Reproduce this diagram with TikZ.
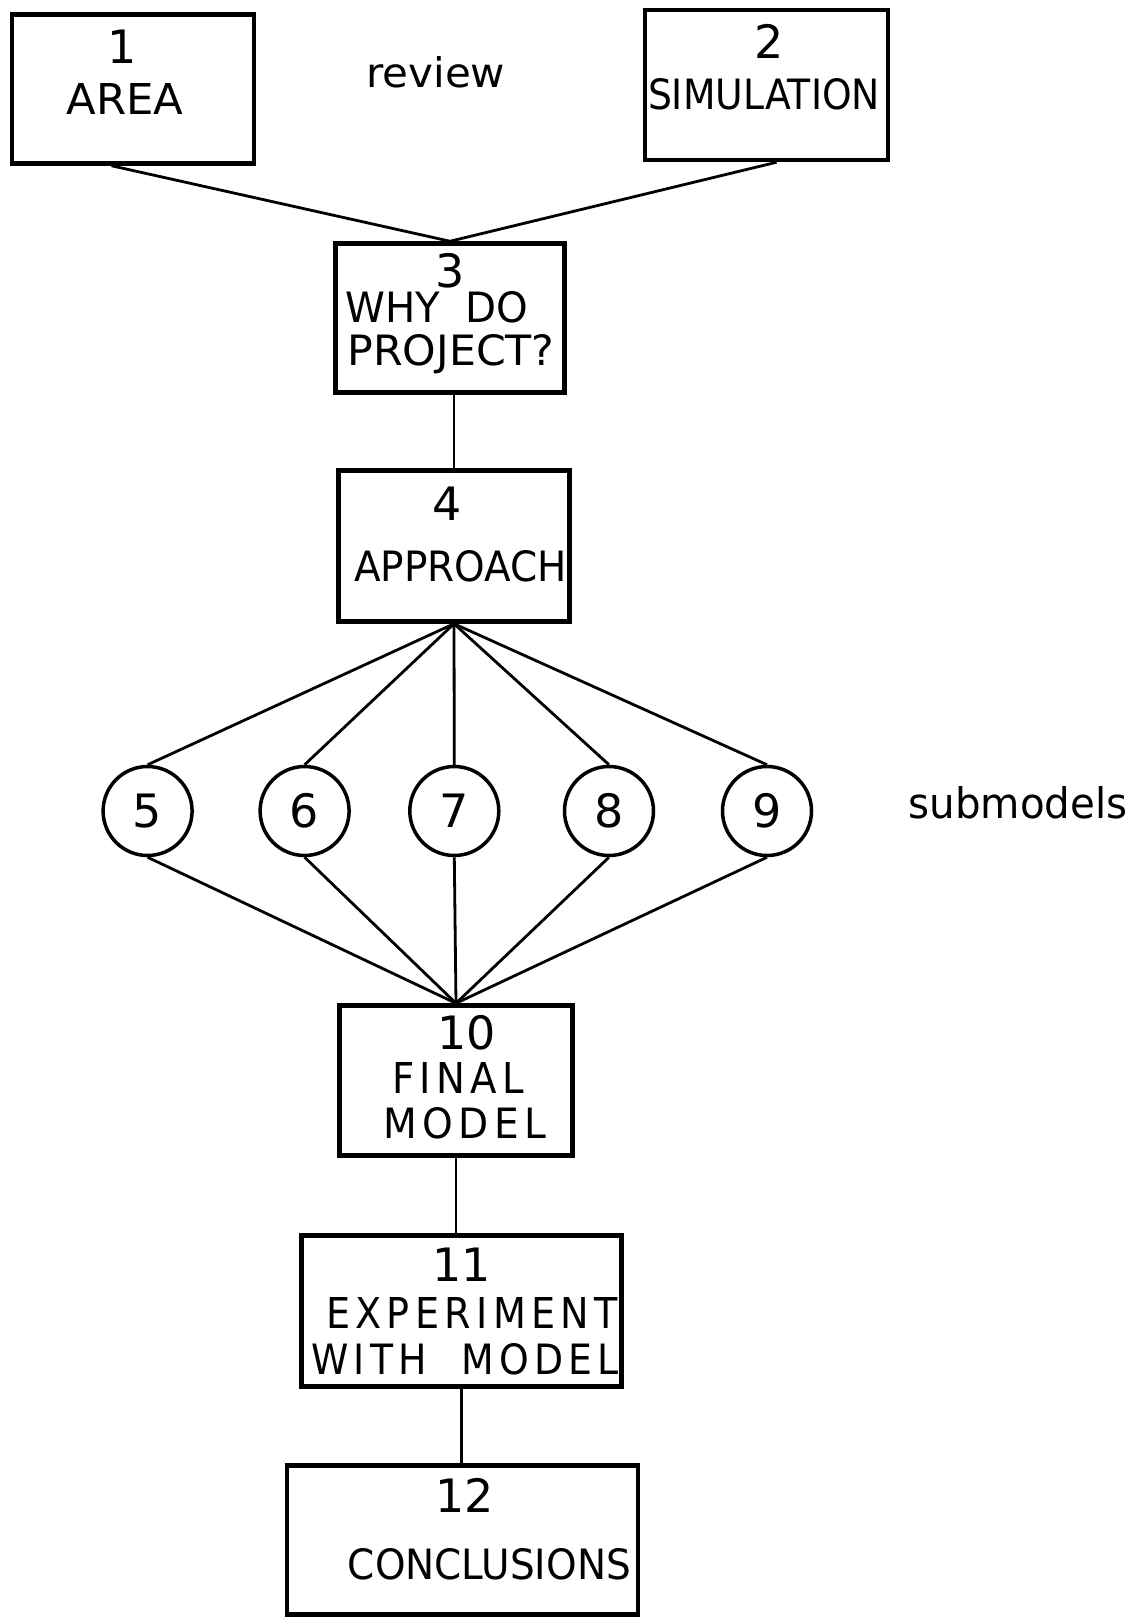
\documentclass[tikz,border=0pt]{standalone}
\usepackage{fontspec}
\setmainfont{DejaVu Sans}
\usepackage{graphicx}
% lettering squeezed to the width and height it has in the drawing
\newcommand{\fitword}[3]{\resizebox{#1pt}{#2pt}{#3}}
\newcommand{\spread}[1]{{\addfontfeatures{LetterSpace=14}#1}}
\tikzset{
  box/.style={draw, line width=4.5pt, inner sep=0pt},
  submodel/.style={draw, circle, line width=3.5pt, minimum size=89pt, inner sep=0pt},
  link/.style={line width=2.8pt},
  lbl/.style={inner sep=0pt}
}
\begin{document}
\begin{tikzpicture}[x=1pt,y=-1pt,font=\fontsize{46}{50}\selectfont]
	\useasboundingbox (0,0) rectangle (1147,1619);

	% boxes
	\node[box, minimum width=242pt, minimum height=149pt] (area) at (133,89) {};
	\node[box, minimum width=243pt, minimum height=150pt] (sim) at (766.5,85) {};
	\node[box, minimum width=229pt, minimum height=149pt] (why) at (450,318) {};
	\node[box, minimum width=231pt, minimum height=151pt] (appr) at (454,546) {};
	\node[box, minimum width=233pt, minimum height=150pt] (final) at (456,1080.5) {};
	\node[box, minimum width=320pt, minimum height=151pt] (exper) at (461.5,1311) {};
	\node[box, minimum width=351pt, minimum height=149pt] (concl) at (462.5,1540) {};

	% texts in the boxes
	\node[lbl] (n1) at (121.8,46.5) {1};
	\node[lbl] (t1) at (125,99) {\fitword{117}{31}{AREA}};
	\node[lbl] (n2) at (769,41) {2};
	\node[lbl] (t2) at (764,94) {\fitword{232}{31}{SIMULATION}};
	\node[lbl] (n3) at (450,270.5) {3};
	\node[lbl] (t3a) at (436.7,307.7) {\fitword{183}{31}{WHY~~DO}};
	\node[lbl] (t3b) at (451,354) {\fitword{207}{31}{PROJECT?}};
	\node[lbl] (n4) at (447,504) {4};
	\node[lbl] (t4) at (460.5,566) {\fitword{213}{31}{APPROACH}};
	\node[lbl] (n10) at (466.6,1032.4) {10};
	\node[lbl] (t10a) at (458,1077.8) {\fitword{132}{31}{\spread{FINAL}}};
	\node[lbl] (t10b) at (465,1123.3) {\fitword{163}{31}{\spread{MODEL}}};
	\node[lbl] (n11) at (461.5,1264.7) {11};
	\node[lbl] (t11a) at (472,1313.2) {\fitword{292}{31}{\spread{EXPERIMENT}}};
	\node[lbl] (t11b) at (465,1359.7) {\fitword{308}{31}{\spread{WITH~~MODEL}}};
	\node[lbl] (n12) at (464.6,1495) {12};
	\node[lbl] (t12) at (489.4,1564) {\fitword{283}{31}{CONCLUSIONS}};

	% side notes
	\node[lbl] (review) at (435.7,72) {\fitword{139}{31}{review}};
	\node[lbl] (subs) at (1018,803) {\fitword{219}{32}{submodels}};

	% submodels
	\foreach \n/\x in {5/147.6,6/304.6,7/454.3,8/609,9/767}
		\node[submodel] (c\n) at (\x,811) {\n};

	% connectors
	\draw[link] ([xshift=-21.5pt]area.south) -- (why.north);
	\draw[link] ([xshift=10pt]sim.south) -- (why.north);
	\draw[link] (appr.north |- why.south) -- (appr.north);
	\foreach \n in {5,...,9}{
		\draw[link] (appr.south) -- (c\n.north);
		\draw[link] (c\n.south) -- (final.north);
	}
	\draw[link] (final.south) -- (final.south |- exper.north);
	\draw[link] (exper.south) -- (exper.south |- concl.north);
\end{tikzpicture}
\end{document}
